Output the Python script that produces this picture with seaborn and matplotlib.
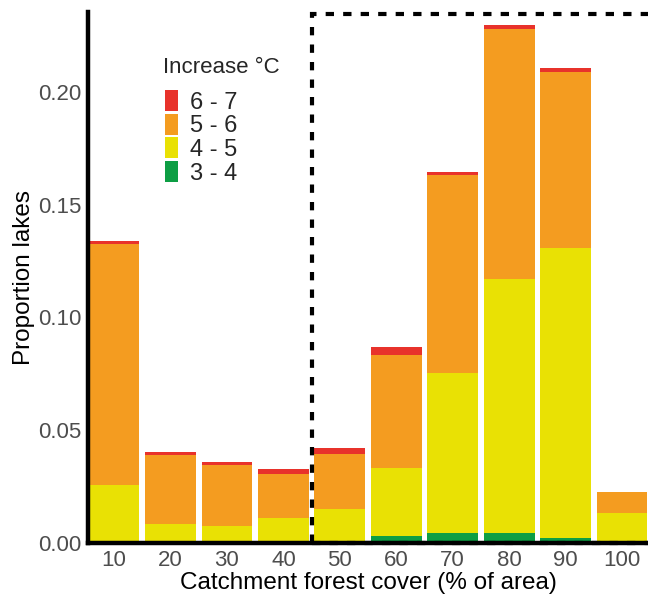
import matplotlib
matplotlib.use("Agg")
import matplotlib.pyplot as plt
from matplotlib.patches import Patch, Rectangle
import pandas as pd
import seaborn as sns

# forest cover classes (% of area)
forest_cover = [10, 20, 30, 40, 50, 60, 70, 80, 90, 100]

# proportion of lakes in each temperature-increase class
inc_3_4 = [0.0, 0.0, 0.0, 0.0, 0.0, 0.0031, 0.0043, 0.0044, 0.0021, 0.0]
inc_4_5 = [0.0256, 0.0084, 0.0076, 0.0111, 0.0152, 0.0301, 0.0711, 0.1125, 0.1286, 0.0135]
inc_5_6 = [0.1072, 0.0307, 0.0272, 0.0194, 0.0242, 0.0502, 0.0877, 0.1111, 0.0783, 0.0092]
inc_6_7 = [0.0010, 0.0013, 0.0012, 0.0024, 0.0025, 0.0037, 0.0013, 0.0018, 0.0015, 0.0]

classes = ["6 - 7", "5 - 6", "4 - 5", "3 - 4"]
colors = ["#E8322B", "#F49C20", "#E9E104", "#0D9E44"]

rows = []
for lab, vals in zip(classes, [inc_6_7, inc_5_6, inc_4_5, inc_3_4]):
    for fc, v in zip(forest_cover, vals):
        rows.append({"forest": fc, "prop": v, "inc": lab})
df = pd.DataFrame(rows)

sns.set_style("white")
plt.rcParams["font.family"] = ["Liberation Sans", "DejaVu Sans"]

fig = plt.figure(figsize=(6.48, 5.97), dpi=100)
ax = fig.add_axes([0.136, 0.0905, 0.864, 0.8895])

sns.histplot(data=df, x="forest", weights="prop", hue="inc",
             hue_order=classes, palette=dict(zip(classes, colors)),
             binwidth=10, binrange=(5, 105), multiple="stack", shrink=0.9,
             alpha=1, linewidth=0, legend=False, ax=ax)

ax.set_xlim(5.4, 104.6)
ax.set_ylim(0, 0.2355)
ax.set_xticks(forest_cover)
ax.set_yticks([0, 0.05, 0.10, 0.15, 0.20])
ax.set_yticklabels(["0.00", "0.05", "0.10", "0.15", "0.20"])
ax.tick_params(labelsize=16, colors="#4D4D4D", length=3, width=1, pad=2)
ax.set_xlabel("Catchment forest cover (% of area)", fontsize=17.5, color="black", labelpad=1)
ax.set_ylabel("Proportion lakes", fontsize=17.5, color="black", labelpad=2)

sns.despine(ax=ax)
for side in ["left", "bottom"]:
    ax.spines[side].set_linewidth(3.2)
    ax.spines[side].set_color("black")

# dashed box around the forested catchments
box = Rectangle((45, 0), 65, 0.2345, fill=False, edgecolor="black",
                linewidth=3, linestyle=(0, (2.0, 2.2)), clip_on=False, zorder=5)
ax.add_patch(box)

# legend
ax.text(0.134, 0.8945, "Increase \u00b0C", transform=ax.transAxes,
        fontsize=16, ha="left", va="center")
handles = [Patch(facecolor=c, edgecolor="none") for c in colors]
ax.legend(handles, classes, loc="upper left",
          bbox_to_anchor=(0.138, 0.853), frameon=False, fontsize=17,
          handlelength=0.55, handleheight=1.0, labelspacing=0.0,
          handletextpad=0.5, borderpad=0, borderaxespad=0)

fig.savefig("out.png", dpi=100)
